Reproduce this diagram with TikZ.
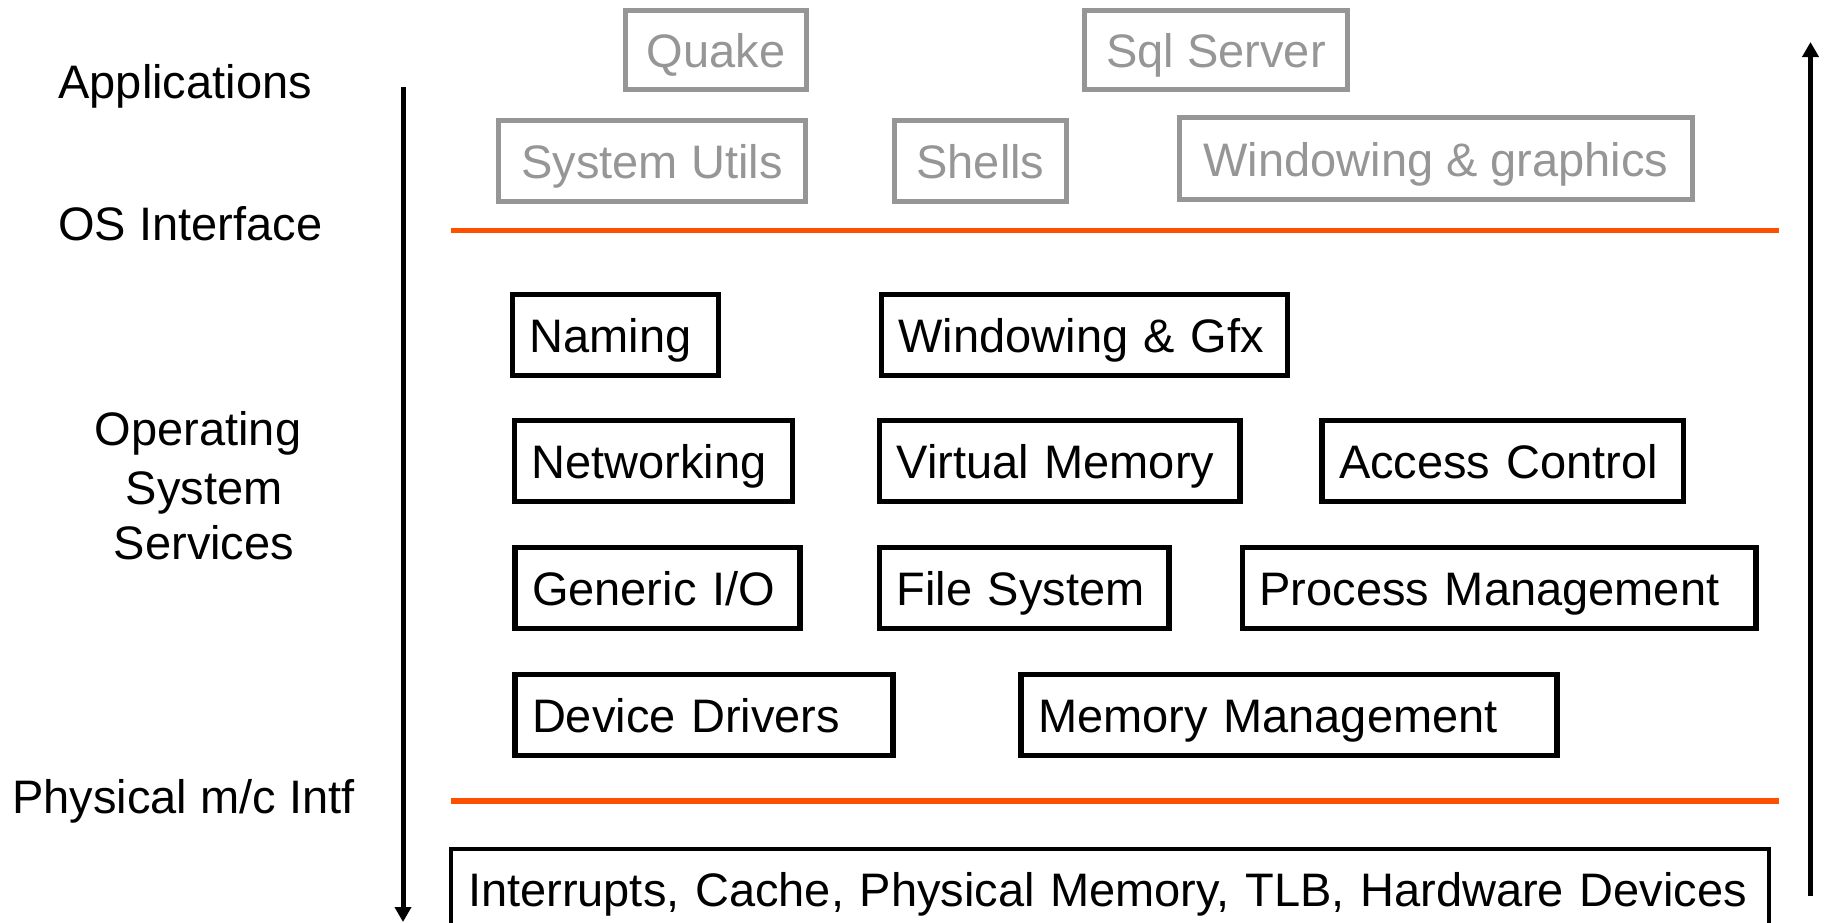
\documentclass[tikz,border=0pt]{standalone}
\usepackage{fontspec}
\setmainfont{Liberation Sans}
\usepackage{xcolor}
\usetikzlibrary{arrows.meta}

\definecolor{layerline}{RGB}{255,80,0}
\definecolor{appgray}{RGB}{150,150,150}

\begin{document}
\begin{tikzpicture}[x=0.5pt,y=-0.5pt]

\useasboundingbox (0,0) rectangle (1826,922);

\tikzset{
    txt/.style = {
    font=\fontsize{23.5}{28.5}\selectfont,
    text height=19pt,
    text depth=1.5pt
    }
}

\tikzstyle{app}=[draw=appgray, text=appgray, line width=2.6pt, anchor=north west, outer sep=0pt, inner sep=0pt, txt]
\tikzstyle{service}=[draw, line width=2.6pt, anchor=north west, outer sep=0pt, inner xsep=8.5pt, inner ysep=0pt, align=left, minimum height=40.5pt, txt]
\tikzstyle{side}=[inner sep=0pt, txt, text height=17pt, text depth=3pt]

% applications
\node (quake) [app, minimum width=90.5pt, minimum height=39.5pt] at (625.5,10.5) {Quake};
\node (sql) [app, minimum width=131.5pt, minimum height=39.5pt] at (1084.5,10.5) {Sql Server};
\node (utils) [app, minimum width=153.5pt, minimum height=40.5pt] at (498.5,120.5) {System Utils};
\node (shells) [app, minimum width=86pt, minimum height=40.5pt] at (894.5,120.5) {Shells};
\node (wingfx) [app, minimum width=256.5pt, minimum height=41pt] at (1179.5,117.5) {Windowing \& graphics};

% os services
\node (naming) [service, text width=86pt] at (512.5,294.5) {Naming};
\node (wgfx) [service, text width=186pt] at (881.5,294.5) {Windowing \& Gfx};

\node (net) [service, text width=122pt] at (514.5,420.5) {Networking};
\node (vm) [service, text width=163.25pt] at (879.5,420.5) {Virtual Memory};
\node (acl) [service, text width=163.75pt] at (1322,420.5) {Access Control};

\node (gio) [service, text width=125.5pt] at (515,547.5) {Generic I/O};
\node (fs) [service, text width=127.75pt] at (879.5,547.5) {File System};
\node (proc) [service, text width=239.75pt] at (1242.5,547.5) {Process Management};

\node (drv) [service, text width=172pt] at (515,674.5) {Device Drivers};
\node (mem) [service, text width=251pt] at (1021,674.5) {Memory Management};

% hardware
\node (hw) [service, line width=1.6pt, text width=642pt, minimum height=40pt] at (451,849) {Interrupts, Cache, Physical Memory, TLB, Hardware Devices};

% interfaces
\foreach \y in {230.5,801}{
    \draw[layerline, line width=2.8pt] (451,\y) -- (1779,\y);
}

% layer names
\node (applbl) [side, anchor=west] at (58,84) {Applications};
\node (oslbl) [side, anchor=west] at (58,226) {OS Interface};
\node (svc1) [side, anchor=base] at (198,445) {Operating};
\node (svc2) [side, anchor=base] at (204,504) {System};
\node (svc3) [side, anchor=base] at (204,559) {Services};
\node (physlbl) [side, anchor=west] at (12,799) {Physical m/c Intf};

% direction arrows
\coordinate (down-a) at (403,87);
\coordinate (down-b) at (403,922);
\coordinate (up-a) at (1810.5,896);
\coordinate (up-b) at (1810.5,42);

\draw[line width=2.5pt, -{Triangle[length=7.5pt, width=8pt]}] (down-a) -- (down-b);
\draw[line width=2.5pt, -{Triangle[length=7.5pt, width=8pt]}] (up-a) -- (up-b);

\end{tikzpicture}
\end{document}
